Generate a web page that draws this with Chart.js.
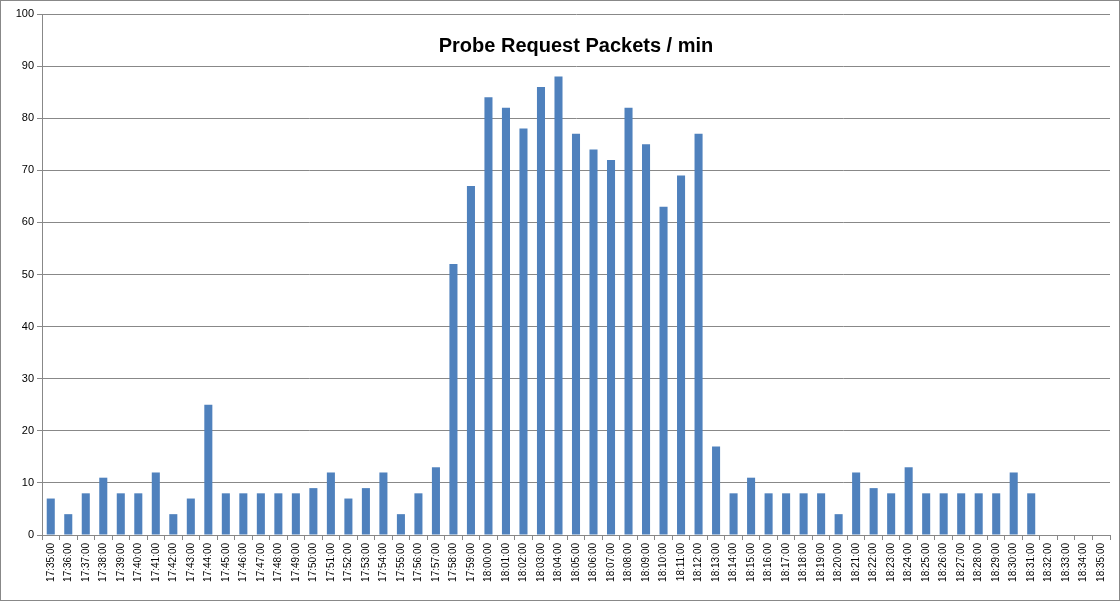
<!DOCTYPE html>
<html>
<head>
<meta charset="utf-8">
<script src="https://cdn.jsdelivr.net/npm/chart.js@4/dist/chart.umd.min.js"></script>
<style>
  html, body { margin: 0; padding: 0; background: #fff; }
  #wrap { width: 1118px; height: 599px; border: 1px solid #888; }
</style>
</head>
<body>
<div id="wrap"><canvas id="chart" width="1118" height="599"></canvas></div>
<script>
// minutes 17:35 .. 18:35
const times = [];
for (let m = 35; m <= 95; m++) {
    const h = 17 + Math.floor(m / 60);
    const mm = String(m % 60).padStart(2, "0");
    times.push(h + ":" + mm + ":00");
}

const packets = [
    7, 4, 8, 11, 8, 8, 12, 4, 7, 25,
    8, 8, 8, 8, 8, 9, 12, 7, 9, 12,
    4, 8, 13, 52, 67, 84, 82, 78, 86, 88,
    77, 74, 72, 82, 75, 63, 69, 77, 17, 8,
    11, 8, 8, 8, 8, 4, 12, 9, 8, 13,
    8, 8, 8, 8, 8, 12, 8, 0, 0, 0, 0
];

const titleText = "Probe Request Packets / min";

// title sits inside the plot area, like the original
const innerTitle = {
    id: "innerTitle",
    afterDraw(chart) {
        const c = chart.ctx;
        const area = chart.chartArea;
        c.save();
        c.font = "bold 20px 'Liberation Sans', Arial, sans-serif";
        c.fillStyle = "#000";
        c.textAlign = "center";
        c.textBaseline = "middle";
        c.fillText(titleText, (area.left + area.right) / 2, 45);
        c.restore();
    }
};

new Chart(document.getElementById("chart"), {
    type: "bar",
    data: {
        labels: times,
        datasets: [{
            label: titleText,
            data: packets,
            backgroundColor: "#4F81BD",
            barPercentage: 0.46,
            categoryPercentage: 1
        }]
    },
    options: {
        responsive: false,
        animation: false,
        layout: { padding: { top: 13, right: 9, bottom: 0, left: 0 } },
        plugins: { legend: { display: false }, tooltip: { enabled: false } },
        scales: {
            x: {
                grid: { display: true, drawOnChartArea: false, color: "#888", tickLength: 5, offset: true },
                border: { color: "#888" },
                ticks: {
                    autoSkip: false, minRotation: 90, maxRotation: 90,
                    color: "#000", font: { family: "'Liberation Sans', Arial", size: 10 }
                },
                afterFit(s) { s.height = 65; }
            },
            y: {
                min: 0, max: 100,
                grid: { color: "#888", tickLength: 5 },
                border: { color: "#888" },
                ticks: {
                    stepSize: 10, color: "#000",
                    font: { family: "'Liberation Sans', Arial", size: 11 }
                },
                afterFit(s) { s.width = 41; }
            }
        }
    },
    plugins: [innerTitle]
});
</script>
</body>
</html>
